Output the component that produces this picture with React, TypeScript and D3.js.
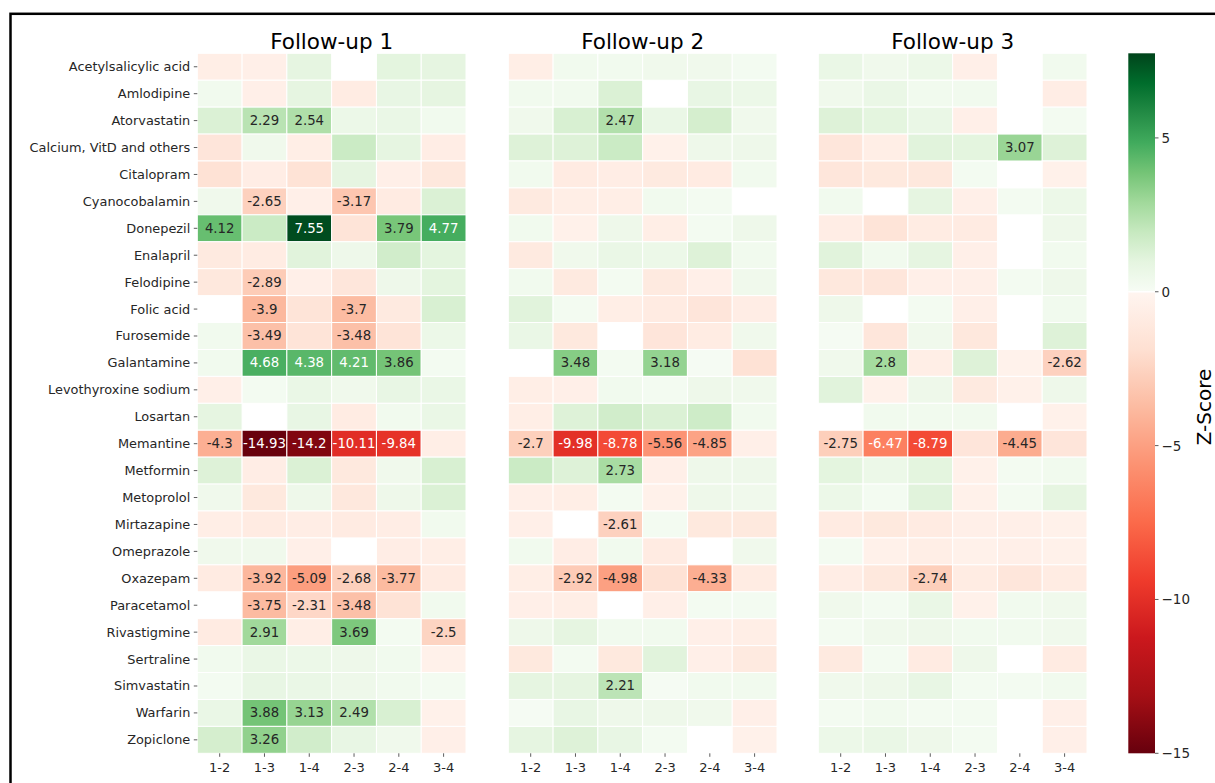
import React from "react";
import * as d3 from "d3";

// Drugs (rows) and pairwise follow-up comparisons (columns)
const drugs = [
  "Acetylsalicylic acid", "Amlodipine", "Atorvastatin", "Calcium, VitD and others",
  "Citalopram", "Cyanocobalamin", "Donepezil", "Enalapril", "Felodipine", "Folic acid",
  "Furosemide", "Galantamine", "Levothyroxine sodium", "Losartan", "Memantine",
  "Metformin", "Metoprolol", "Mirtazapine", "Omeprazole", "Oxazepam", "Paracetamol",
  "Rivastigmine", "Sertraline", "Simvastatin", "Warfarin", "Zopiclone",
];
const comparisons = ["1-2", "1-3", "1-4", "2-3", "2-4", "3-4"];
const panelTitles = ["Follow-up 1", "Follow-up 2", "Follow-up 3"];

// Z-scores per drug (rows) x comparison (columns); null = no data
const followUp1: (number | null)[][] = [
  [-0.6, -0.5, 0.9, null, 1.0, 0.9],
  [0.3, -0.5, 0.9, -0.8, 0.8, 0.9],
  [1.3, 2.29, 2.54, 0.6, 0.7, 0.3],
  [-1.4, 0.4, -0.6, 1.8, 0.9, -0.7],
  [-1.7, -0.7, -1.6, 0.9, -0.5, -1.2],
  [0.4, -2.65, -0.5, -3.17, -0.9, 1.3],
  [4.12, 1.8, 7.55, -1.5, 3.79, 4.77],
  [-1.0, -0.8, 1.1, 0.5, 1.6, 1.0],
  [-1.2, -2.89, -0.5, -1.3, 0.5, 1.0],
  [null, -3.9, -1.5, -3.7, -1.0, 1.4],
  [0.3, -3.49, -1.5, -3.48, -1.5, 0.6],
  [0.3, 4.68, 4.38, 4.21, 3.86, 0.2],
  [-0.5, 0.2, 0.7, 0.4, 0.8, 0.7],
  [0.9, null, 0.8, -0.8, 0.3, 0.7],
  [-4.3, -14.93, -14.2, -10.11, -9.84, -0.6],
  [1.2, -0.7, 1.3, -1.1, 0.4, 1.4],
  [0.4, -1.1, 0.5, -1.2, 0.5, 1.3],
  [-0.6, -0.9, -0.7, -0.9, -0.7, 0.3],
  [0.4, 0.4, -0.5, null, -0.7, -0.6],
  [-0.9, -3.92, -5.09, -2.68, -3.77, -0.9],
  [null, -3.75, -2.31, -3.48, -1.6, 0.3],
  [-0.9, 2.91, -0.6, 3.69, 0.2, -2.5],
  [0.3, 0.7, 0.6, 0.5, 0.3, -0.4],
  [0.2, 0.8, 0.7, 0.5, 0.3, 0.2],
  [0.7, 3.88, 3.13, 2.49, 1.4, -0.4],
  [1.5, 3.26, 1.6, 0.8, 0.4, -0.5],
];

const followUp2: (number | null)[][] = [
  [-0.6, 0.3, 0.3, 0.4, 0.4, 0.2],
  [0.3, 0.3, 1.3, null, 0.8, 0.6],
  [0.4, 1.4, 2.47, 0.7, 1.5, 0.4],
  [1.2, 1.2, 1.8, -0.4, 0.5, 0.5],
  [0.3, -0.9, -0.7, -1.0, -0.9, 0.3],
  [-1.0, -0.6, -0.6, 0.3, 0.2, null],
  [0.3, -0.4, 0.5, -0.6, 0.2, 0.5],
  [-1.0, 0.4, 0.7, 0.6, 1.2, 0.3],
  [0.3, -1.0, 0.2, -1.0, -0.5, 0.4],
  [1.1, 0.2, -0.6, -0.9, -1.4, -0.7],
  [0.7, -1.1, null, -1.4, -0.8, 0.4],
  [null, 3.48, 0.2, 3.18, 0.1, -1.7],
  [-0.6, -0.5, 0.3, 0.2, 0.5, 0.4],
  [-0.6, 1.2, 1.6, 1.3, 1.7, 0.3],
  [-2.7, -9.98, -8.78, -5.56, -4.85, -0.5],
  [1.8, 1.2, 2.73, -0.5, 0.5, 0.5],
  [-0.5, -0.6, 0.2, -0.4, 0.5, 0.4],
  [-0.5, null, -2.61, 0.2, -1.1, -1.1],
  [0.3, -0.7, 0.3, -0.9, null, 0.4],
  [-0.6, -2.92, -4.98, -1.7, -4.33, -0.8],
  [-0.5, -0.6, null, -0.5, 0.2, 0.2],
  [0.5, 0.9, 0.3, 0.3, -0.5, -0.6],
  [-1.1, 0.2, -1.1, 1.1, -0.5, -1.0],
  [0.9, 0.9, 2.21, 0.1, 0.3, 0.3],
  [0.1, 0.8, 0.5, 0.5, 0.4, -0.5],
  [0.9, 1.2, 0.8, 0.2, null, -0.4],
];

const followUp3: (number | null)[][] = [
  [0.7, 0.4, 0.6, -0.5, null, 0.3],
  [0.4, 0.7, 0.3, 0.3, null, -0.7],
  [1.2, 1.0, 0.7, -0.5, null, 0.2],
  [-1.3, -0.6, 1.1, 1.0, 3.07, 1.2],
  [-1.3, -1.1, -1.2, 0.2, null, -0.4],
  [0.3, null, 0.9, -0.5, 0.2, 0.6],
  [-0.7, -1.5, -0.8, -0.9, null, 0.5],
  [1.1, 0.3, 0.9, -0.5, null, 0.3],
  [-1.2, -1.3, -0.5, -0.5, 0.2, 0.5],
  [0.5, null, 0.2, -0.5, null, 0.3],
  [0.1, -1.3, 0.4, -1.2, null, 1.2],
  [0.4, 2.8, -0.6, 1.2, -0.3, -2.62],
  [1.1, -0.4, 0.5, -1.0, -0.4, 0.5],
  [null, 0.3, 0.3, 0.3, null, -0.4],
  [-2.75, -6.47, -8.79, -1.4, -4.45, -1.4],
  [1.0, 0.6, 1.0, -0.4, 0.2, 0.3],
  [0.6, 0.2, 1.1, -0.4, 0.2, 0.9],
  [-0.9, -1.1, -0.9, -0.5, -0.5, -0.4],
  [0.2, -0.4, -0.6, -0.4, -0.5, -0.4],
  [-0.7, -1.2, -2.74, -0.8, -1.3, -0.8],
  [0.4, 0.2, 0.7, -0.4, 0.3, 0.4],
  [0.2, 0.4, 0.5, 0.3, 0.3, 0.4],
  [-1.0, 0.2, -0.9, 0.5, null, -0.9],
  [0.4, 0.5, 0.8, 0.2, 0.2, 0.3],
  [0.2, 0.3, 0.2, 0.2, null, -0.5],
  [0.6, 0.7, 0.5, 0.2, null, -0.5],
];

const panels = [followUp1, followUp2, followUp3];
const colorbarTicks = [5, 0, -5, -10, -15];

// Sequential palettes (ColorBrewer 9-class), interpolated linearly between stops
const greensStops = ["#f7fcf5", "#e5f5e0", "#c7e9c0", "#a1d99b", "#74c476", "#41ab5d", "#238b45", "#006d2c", "#00441b"];
const redsStops = ["#fff5f0", "#fee0d2", "#fcbba1", "#fc9272", "#fb6a4a", "#ef3b2c", "#cb181d", "#a50f15", "#67000d"];

const Z_MIN = -15;
const Z_MAX = 7.75;
const ANNOTATE_ABOVE = 2;

const FONT = "'DejaVu Sans', Verdana, sans-serif";

const greens = d3.piecewise(d3.interpolateRgb, greensStops);
const reds = d3.piecewise(d3.interpolateRgb, redsStops);

// Greens above zero, Reds below, each stretched to its own end of the range
const zColor = (v: number) => (v >= 0 ? greens(v / Z_MAX) : reds(-v / -Z_MIN));

// Dark text on light cells, white text on dark cells
const textColor = (fill: string) => {
  const c = d3.rgb(fill);
  const lin = (x: number) => {
    const s = x / 255;
    return s <= 0.03928 ? s / 12.92 : Math.pow((s + 0.055) / 1.055, 2.4);
  };
  const lum = 0.2126 * lin(c.r) + 0.7152 * lin(c.g) + 0.0722 * lin(c.b);
  return lum > 0.408 ? "#262626" : "#ffffff";
};

const W = 1215;
const H = 783;
const top = 53.3;
const bottom = 753.3;
const panelLeft = [197.3, 508.3, 818.3];
const panelWidth = 268.7;
const cbLeft = 1128.3;
const cbRight = 1155;

export default function App() {
  const y = d3.scaleBand<string>().domain(drugs).range([top, bottom]);
  const cbY = d3.scaleLinear().domain([Z_MIN, Z_MAX]).range([bottom, top]);
  const y0 = cbY(0);

  const stopsAt = d3.range(0, 1.0001, 0.125);

  return (
    <svg
      width={W}
      height={H}
      style={{ position: "absolute", left: 0, top: 0, background: "#fff" }}
      fontFamily={FONT}
    >
      <defs>
        <linearGradient id="cbGreen" x1="0" y1="1" x2="0" y2="0">
          {stopsAt.map((t) => (
            <stop key={t} offset={t} stopColor={greens(t)} />
          ))}
        </linearGradient>
        <linearGradient id="cbRed" x1="0" y1="0" x2="0" y2="1">
          {stopsAt.map((t) => (
            <stop key={t} offset={t} stopColor={reds(t)} />
          ))}
        </linearGradient>
      </defs>

      <rect x={0} y={0} width={W} height={H} fill="#fff" />

      {panels.map((data, p) => {
        const x = d3
          .scaleBand<string>()
          .domain(comparisons)
          .range([panelLeft[p], panelLeft[p] + panelWidth]);
        return (
          <g key={p}>
            <text
              x={panelLeft[p] + panelWidth / 2}
              y={49}
              textAnchor="middle"
              fontSize={21.5}
              fill="#000"
            >
              {panelTitles[p]}
            </text>
            {drugs.map((drug, r) =>
              comparisons.map((cmp, c) => {
                const v = data[r][c];
                if (v === null) return null;
                const fill = zColor(v);
                return (
                  <g key={drug + cmp}>
                    <rect
                      x={x(cmp)!}
                      y={y(drug)!}
                      width={x.bandwidth()}
                      height={y.bandwidth()}
                      fill={fill}
                      stroke="#fff"
                      strokeWidth={1}
                    />
                    {Math.abs(v) > ANNOTATE_ABOVE && (
                      <text
                        x={x(cmp)! + x.bandwidth() / 2}
                        y={y(drug)! + y.bandwidth() / 2}
                        textAnchor="middle"
                        dominantBaseline="central"
                        fontSize={13.3}
                        fill={textColor(fill)}
                      >
                        {String(v)}
                      </text>
                    )}
                  </g>
                );
              })
            )}
            {comparisons.map((cmp) => {
              const cx = x(cmp)! + x.bandwidth() / 2;
              return (
                <g key={cmp}>
                  <line x1={cx} x2={cx} y1={bottom} y2={bottom + 3.5} stroke="#333" strokeWidth={0.8} />
                  <text x={cx} y={772} textAnchor="middle" fontSize={13} fill="#262626">
                    {cmp}
                  </text>
                </g>
              );
            })}
            {p === 0 &&
              drugs.map((drug) => {
                const cy = y(drug)! + y.bandwidth() / 2;
                return (
                  <g key={drug}>
                    <line x1={panelLeft[0] - 3.5} x2={panelLeft[0]} y1={cy} y2={cy} stroke="#333" strokeWidth={0.8} />
                    <text
                      x={panelLeft[0] - 7}
                      y={cy}
                      textAnchor="end"
                      dominantBaseline="central"
                      fontSize={12.9}
                      fill="#262626"
                    >
                      {drug}
                    </text>
                  </g>
                );
              })}
          </g>
        );
      })}

      {/* colour bar */}
      <rect x={cbLeft} y={top} width={cbRight - cbLeft} height={y0 - top} fill="url(#cbGreen)" />
      <rect x={cbLeft} y={y0} width={cbRight - cbLeft} height={bottom - y0} fill="url(#cbRed)" />
      <line x1={cbLeft} x2={cbRight} y1={y0} y2={y0} stroke="#fff" strokeWidth={1.5} />
      {colorbarTicks.map((t) => (
        <g key={t}>
          <line x1={cbRight} x2={cbRight + 3.5} y1={cbY(t)} y2={cbY(t)} stroke="#333" strokeWidth={0.8} />
          <text
            x={cbRight + 6.5}
            y={cbY(t)}
            dominantBaseline="central"
            fontSize={13.5}
            fill="#262626"
          >
            {t < 0 ? "\u2212" + Math.abs(t) : String(t)}
          </text>
        </g>
      ))}
      <text
        transform="translate(1210.5,407) rotate(-90)"
        textAnchor="middle"
        fontSize={20}
        fill="#000"
      >
        Z-Score
      </text>

      {/* outer frame */}
      <rect x={10.5} y={13.8} width={W + 20} height={H + 20} fill="none" stroke="#000" strokeWidth={2.5} />
    </svg>
  );
}
